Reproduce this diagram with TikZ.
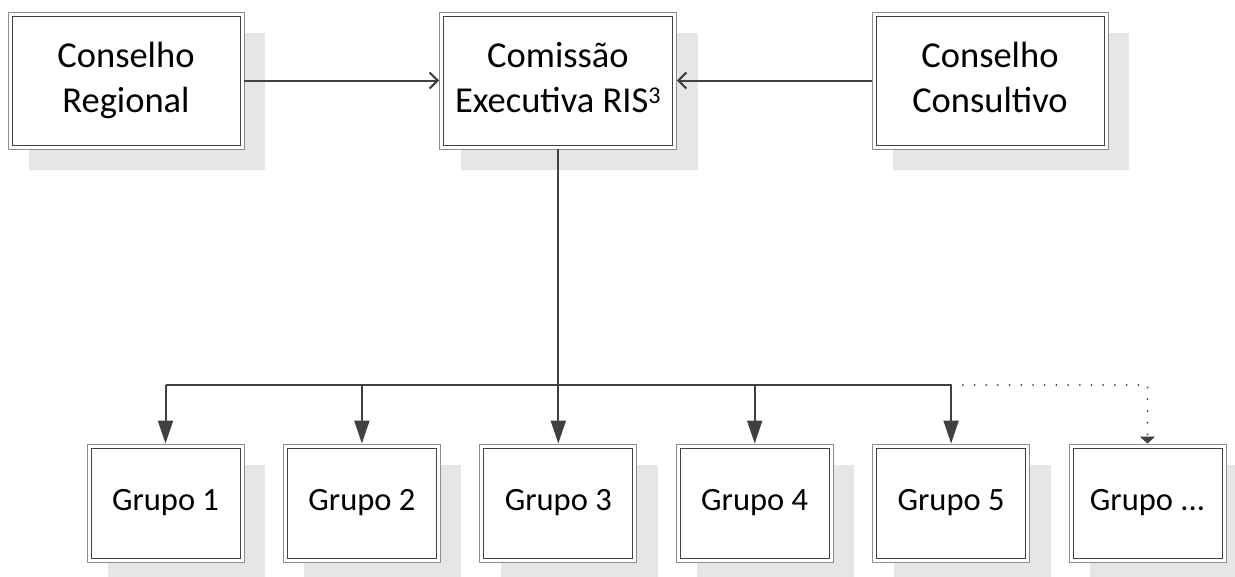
\documentclass[tikz,border=0pt]{standalone}
\usepackage{fontspec}
\setmainfont{Carlito}
\usetikzlibrary{arrows.meta,shadows}
\definecolor{linec}{HTML}{404040}
\definecolor{outerc}{HTML}{8C8C8C}
\definecolor{shadowc}{HTML}{E6E6E6}
\begin{document}
\begin{tikzpicture}[x=1pt,y=-1pt,
  orgbox/.style={draw=outerc, line width=0.9pt, fill=white, align=center, inner sep=0pt,
    general shadow={fill=shadowc, draw=none, shadow xshift=21pt, shadow yshift=-21pt},
    path picture={\draw[linec,line width=1pt] ([shift={(4pt,4pt)}]path picture bounding box.south west) rectangle ([shift={(-4pt,-4pt)}]path picture bounding box.north east);}},
  topbox/.style={orgbox, minimum width=236pt, minimum height=137pt, font=\fontsize{36.5}{45}\selectfont},
  grpbox/.style={orgbox, minimum width=157pt, minimum height=118pt, font=\fontsize{32.5}{38}\selectfont},
  conn/.style={draw=linec, line width=2pt},
  opentip/.style={-{Straight Barb[length=8pt,width=16pt]}},
  bigtip/.style={-{Triangle[length=23pt,width=15pt]}},
]
\useasboundingbox (0,0) rectangle (1235,576);
\node[topbox] (cr) at (126,80.5) {Conselho\\Regional};
\node[topbox, minimum width=237pt] (ce) at (558,80.5) {\smash{Comissão}\vphantom{Conselho}\\\smash{Executiva RIS\textsuperscript{\fontsize{24}{24}\selectfont 3}}\vphantom{Regional}};
\node[topbox] (cc) at (990,80.5) {Conselho\\Consultivo\vphantom{Regional}};
\foreach \i in {1,2,3,4,5}{
  \node[grpbox] (g\i) at ({165.5+196.4*(\i-1)},503) {Grupo \i};
}
\node[grpbox] (g6) at ({165.5+196.4*5},503) {Grupo ...};
\coordinate (bus) at (558,385);
\draw[conn, opentip] (cr) -- (ce);
\draw[conn, opentip] (cc) -- (ce);
\draw[conn] (ce.south) -- (bus);
\draw[conn] (g1.north |- bus) -- (g5.north |- bus);
\foreach \i in {1,2,3,4,5}{
  \draw[conn, bigtip] (g\i.north |- bus) -- (g\i.north);
}
\draw[linec, line width=2pt, line cap=round, dash pattern=on 0pt off 11.7pt, -{Triangle[length=7pt,width=15pt]}] (g5.north |- bus) -- (g6.north |- bus) -- (g6.north);
\end{tikzpicture}
\end{document}
